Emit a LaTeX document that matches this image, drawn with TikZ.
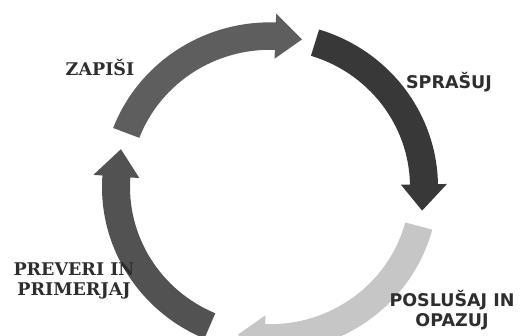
\documentclass[tikz,border=0pt]{standalone}
\usepackage{fontspec}
\newfontfamily\lblsans{DejaVu Sans}
\newfontfamily\lblserif{DejaVu Serif}
\definecolor{arrA}{HTML}{5E5E5E}
\definecolor{arrB}{HTML}{383838}
\definecolor{arrC}{HTML}{C6C6C6}
\definecolor{arrD}{HTML}{525252}
\definecolor{txt}{HTML}{2E2E2E}
\newcommand\cycarrow[4]{% color, tail angle, head base angle, tip angle
  \fill[#1] (#2:168) arc[start angle=#2, end angle=#3, radius=168]
    -- (#3:177) -- (#4:154) -- (#3:131) -- (#3:140)
    arc[start angle=#3, end angle=#2, radius=140] -- cycle;}
\tikzset{lbl/.style={text=txt, font=\lblsans\bfseries\fontsize{17.5}{20}\selectfont, align=center, inner sep=0pt},
  lblsf/.style={text=txt, font=\lblserif\bfseries\fontsize{17.5}{20}\selectfont, align=center, inner sep=0pt}}
\begin{document}
\begin{tikzpicture}[x=1pt,y=1pt]
\useasboundingbox (0,0) rectangle (528,336);
\fill[white] (0,0) rectangle (528,336);
\begin{scope}[shift={(270,149)}, yscale=0.98]
  \cycarrow{arrA}{159}{88}{78}
  \cycarrow{arrB}{73}{1}{-9}
  \cycarrow{arrC}{-15}{-92}{-102}
  \cycarrow{arrD}{247}{176}{165.5}
\end{scope}
\node[lblsf] (zapisi) at (100,268) {ZAPIŠI};
\node[lbl] (sprasuj) at (449,254) {SPRAŠUJ};
\node[lblsf] (preveri) at (74,55) {PREVERI IN\\PRIMERJAJ};
\node[lbl] (poslusaj) at (452,26) {POSLUŠAJ IN\\OPAZUJ};
\end{tikzpicture}
\end{document}
